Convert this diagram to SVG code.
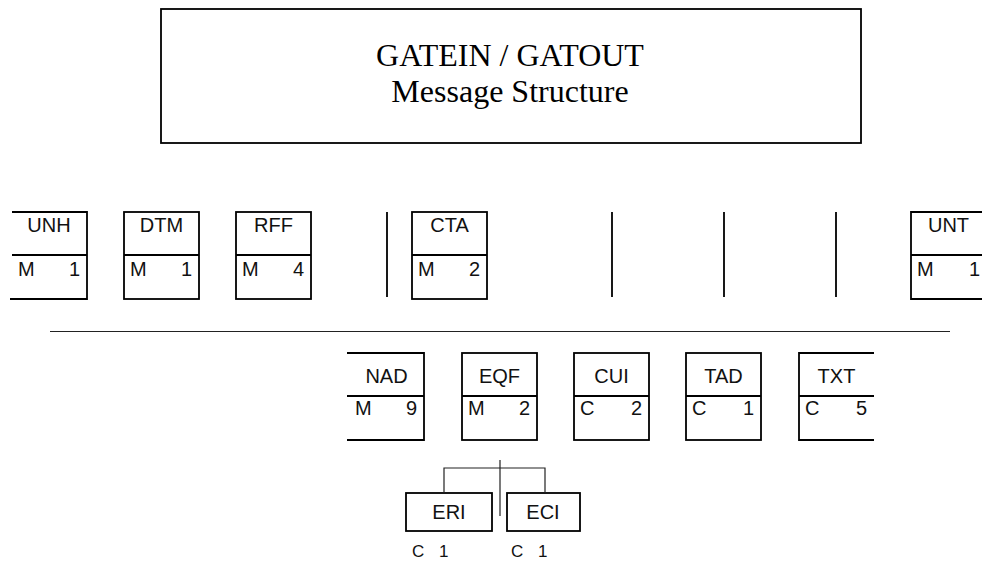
<svg xmlns="http://www.w3.org/2000/svg" width="982" height="562" viewBox="0 0 982 562">
<style>
.box{fill:none;stroke:#000;stroke-width:1.8}
.conn{fill:none;stroke:#222;stroke-width:1.2}
.lbl{font-family:"Liberation Sans",Arial,sans-serif;font-size:20px;fill:#111;text-anchor:middle}
.st{font-family:"Liberation Sans",Arial,sans-serif;font-size:20px;fill:#111}
.end{text-anchor:end}
.ttl{font-family:"Liberation Serif","Times New Roman",serif;font-size:32px;fill:#000;text-anchor:middle}
.sm{font-family:"Liberation Sans",Arial,sans-serif;font-size:17px;fill:#111}
</style>
<rect width="982" height="562" fill="#fff"/>
<g id="title">
<rect class="box" x="161" y="9" width="700" height="134"/>
<text class="ttl" x="510" y="66">GATEIN / GATOUT</text>
<text class="ttl" x="510" y="102">Message Structure</text>
</g>
<g id="UNH">
<path class="box" d="M12,212H87V299H10M12,255H87"/>
<text class="lbl" x="49" y="232">UNH</text>
<text class="st" x="18" y="276">M</text><text class="st end" x="80" y="276">1</text>
</g>
<g id="DTM">
<rect class="box" x="124" y="212" width="75" height="87"/><path class="box" d="M124,255H199"/>
<text class="lbl" x="161.5" y="232">DTM</text>
<text class="st" x="130" y="276">M</text><text class="st end" x="192" y="276">1</text>
</g>
<g id="RFF">
<rect class="box" x="236" y="212" width="75" height="87"/><path class="box" d="M236,255H311"/>
<text class="lbl" x="273.5" y="232">RFF</text>
<text class="st" x="242" y="276">M</text><text class="st end" x="304" y="276">4</text>
</g>
<g id="CTA">
<rect class="box" x="412" y="212" width="75" height="87"/><path class="box" d="M412,255H487"/>
<text class="lbl" x="449.5" y="232">CTA</text>
<text class="st" x="418" y="276">M</text><text class="st end" x="480" y="276">2</text>
</g>
<g id="UNT">
<path class="box" d="M986,212H911V299H986M911,255H986"/>
<text class="lbl" x="948.5" y="232">UNT</text>
<text class="st" x="917" y="276">M</text><text class="st end" x="980" y="276">1</text>
</g>
<g id="NAD">
<path class="box" d="M347,353H424V440H347M347,396H424"/>
<text class="lbl" x="386.5" y="383">NAD</text>
<text class="st" x="355" y="415">M</text><text class="st end" x="417" y="415">9</text>
</g>
<g id="EQF">
<rect class="box" x="462" y="353" width="75" height="87"/><path class="box" d="M462,396H537"/>
<text class="lbl" x="499.5" y="383">EQF</text>
<text class="st" x="468" y="415">M</text><text class="st end" x="530" y="415">2</text>
</g>
<g id="CUI">
<rect class="box" x="574" y="353" width="75" height="87"/><path class="box" d="M574,396H649"/>
<text class="lbl" x="611.5" y="383">CUI</text>
<text class="st" x="580" y="415">C</text><text class="st end" x="642" y="415">2</text>
</g>
<g id="TAD">
<rect class="box" x="686" y="353" width="75" height="87"/><path class="box" d="M686,396H761"/>
<text class="lbl" x="723.5" y="383">TAD</text>
<text class="st" x="692" y="415">C</text><text class="st end" x="754" y="415">1</text>
</g>
<g id="TXT">
<path class="box" d="M874,353H799V440H874M799,396H874"/>
<text class="lbl" x="836.5" y="383">TXT</text>
<text class="st" x="805" y="415">C</text><text class="st end" x="867" y="415">5</text>
</g>
<g id="ERI">
<rect class="box" x="406" y="493" width="86" height="38"/>
<text class="lbl" x="449" y="519">ERI</text>
<text class="sm" x="412" y="557">C</text><text class="sm" x="439" y="557">1</text>
</g>
<g id="ECI">
<rect class="box" x="507" y="493" width="73" height="38"/>
<text class="lbl" x="543" y="519">ECI</text>
<text class="sm" x="511" y="557">C</text><text class="sm" x="538" y="557">1</text>
</g>
<g id="connectors">
<path class="box" d="M387,212V297M612,212V297M724,212V297M836,212V297"/>
<path class="conn" d="M50,331.5H950"/>
<path class="conn" d="M444,493V468H545V493M500,460V516"/>
</g>
</svg>
